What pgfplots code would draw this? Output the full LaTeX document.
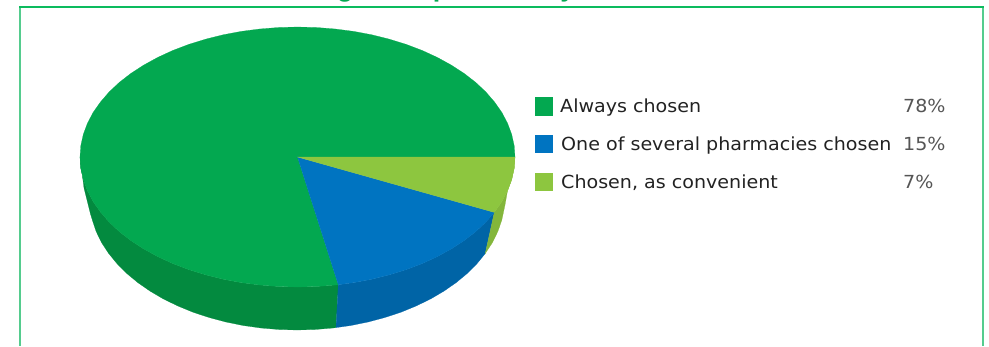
\documentclass[border=0pt]{standalone}
\usepackage{pgfplots}
\pgfplotsset{compat=1.18}
\usepackage{fontspec}
\setmainfont{DejaVu Sans}
\newfontfamily\headfont{Liberation Sans}
\definecolor{sliceGreen}{HTML}{03A850}
\definecolor{sliceBlue}{HTML}{0074C1}
\definecolor{sliceLime}{HTML}{8DC63F}
\definecolor{sideGreen}{HTML}{038A3F}
\definecolor{sideBlue}{HTML}{0064A6}
\definecolor{sideLime}{HTML}{83B63B}
\definecolor{frameTop}{HTML}{0CBB5E}
\definecolor{frameSide}{HTML}{55CC8E}
\definecolor{labelText}{HTML}{222222}
\definecolor{valueText}{HTML}{555555}
\newcommand{\lbl}[1]{\scalebox{1.06}[1]{\fontsize{18}{20}\selectfont #1}}
\begin{document}
\begin{tikzpicture}
\useasboundingbox (0,0) rectangle (989pt,346pt);
\clip (0,0) rectangle (989pt,346pt);
\begin{axis}[
  at={(0,0)}, anchor=south west,
  scale only axis, width=989pt, height=346pt,
  xmin=0, xmax=989, ymin=0, ymax=346, y dir=reverse,
  hide axis, clip=true,
]
% frame of the panel
\addplot[frameSide, line width=2pt] coordinates {(20,7) (20,346)};
\addplot[frameSide, line width=2pt] coordinates {(983,7) (983,346)};
\addplot[frameTop, line width=1.6pt] coordinates {(19,7) (984,7)};

% side wall: 78 percent slice
\addplot[draw=sideGreen, line width=0.2pt, fill=sideGreen] coordinates {
(338.3,284.7)(335.3,285)(316.5,286.5)(297.5,287)(278.5,286.5)(259.7,285)(241.2,282.6)(223.1,279.2)
(205.6,274.8)(188.7,269.6)(172.7,263.5)(157.7,256.6)(143.7,248.9)(130.9,240.6)(119.3,231.6)
(109.1,222)(100.4,211.9)(93.1,201.5)(87.4,190.6)(83.3,179.6)(80.8,168.3)(80,157)
(84,188)(90.5,214)(92.8,221.5)(96.1,231.4)(101.5,242.5)(108.5,253.2)(116.9,263.5)(126.6,273.3)
(137.7,282.5)(149.9,291)(163.3,298.9)(177.7,305.9)(193,312.2)(209.1,317.5)(225.9,322)(243.2,325.5)
(260.9,328)(278.9,329.5)(297,330)(315.1,329.5)(333.1,328)(336,327.6)
} -- cycle;
% side wall: 15 percent slice
\addplot[draw=sideBlue, line width=0.2pt, fill=sideBlue] coordinates {
(494.3,212.4)(485.9,222)(475.7,231.6)(464.1,240.6)(451.3,248.9)(437.3,256.6)(422.3,263.5)(406.3,269.6)
(389.4,274.8)(371.9,279.2)(353.8,282.6)(338.3,284.7)
(336,327.6)(350.8,325.5)(368.1,322)(384.9,317.5)(401,312.2)(416.3,305.9)(430.7,298.9)(444.1,291)
(456.3,282.5)(467.4,273.3)(477.1,263.5)(485.2,253.6)
} -- cycle;
% side wall: 7 percent slice
\addplot[draw=sideLime, line width=0.2pt, fill=sideLime] coordinates {
(515,157)(514.2,168.3)(511.7,179.6)(507.6,190.6)(501.9,201.5)(494.3,212.4)
(485.2,253.6)(492.5,242.5)(497.9,231.4)(501.8,220.1)(505,205)(508,188)(512,172)
} -- cycle;

% top face: 78 percent slice
\addplot[draw=sliceGreen, line width=0.2pt, fill=sliceGreen] coordinates {
(297.5,157)(338.3,284.7)(335.3,285)(316.5,286.5)(297.5,287)(278.5,286.5)(259.7,285)(241.2,282.6)(223.1,279.2)
(205.6,274.8)(188.7,269.6)(172.7,263.5)(157.7,256.6)(143.7,248.9)(130.9,240.6)(119.3,231.6)
(109.1,222)(100.4,211.9)(93.1,201.5)(87.4,190.6)(83.3,179.6)(80.8,168.3)(80,157)
(80.8,145.7)(83.3,134.4)(87.4,123.4)(93.1,112.5)(100.4,102.1)(109.1,92)(119.3,82.4)(130.9,73.4)
(143.7,65.1)(157.7,57.4)(172.7,50.5)(188.7,44.4)(205.6,39.2)(223.1,34.8)(241.2,31.4)(259.7,29)
(278.5,27.5)(297.5,27)(316.5,27.5)(335.3,29)(353.8,31.4)(371.9,34.8)(389.4,39.2)(406.3,44.4)
(422.3,50.5)(437.3,57.4)(451.3,65.1)(464.1,73.4)(475.7,82.4)(485.9,92)(494.6,102.1)(501.9,112.5)
(507.6,123.4)(511.7,134.4)(514.2,145.7)(515,157)
} -- cycle;
% top face: 15 percent slice
\addplot[draw=sliceBlue, line width=0.2pt, fill=sliceBlue] coordinates {
(297.5,157)(494.3,212.4)(485.9,222)(475.7,231.6)(464.1,240.6)(451.3,248.9)(437.3,256.6)(422.3,263.5)
(406.3,269.6)(389.4,274.8)(371.9,279.2)(353.8,282.6)(338.3,284.7)
} -- cycle;
% top face: 7 percent slice
\addplot[draw=sliceLime, line width=0.2pt, fill=sliceLime] coordinates {
(297.5,157)(515,157)(514.2,168.3)(511.7,179.6)(507.6,190.6)(501.9,201.5)(494.3,212.4)
} -- cycle;

% legend swatches
\addplot[draw=none, fill=sliceGreen] coordinates {(535,97)(553,97)(553,115.5)(535,115.5)} -- cycle;
\addplot[draw=none, fill=sliceBlue] coordinates {(535,134.5)(553,134.5)(553,153)(535,153)} -- cycle;
\addplot[draw=none, fill=sliceLime] coordinates {(535,172.5)(553,172.5)(553,191)(535,191)} -- cycle;

% legend labels and shares
\node[anchor=base west, text=labelText, inner sep=0pt] at (axis cs:560,112.5) {\lbl{Always chosen}};
\node[anchor=base west, text=labelText, inner sep=0pt] at (axis cs:561,150.5) {\lbl{One of several pharmacies chosen}};
\node[anchor=base west, text=labelText, inner sep=0pt] at (axis cs:561,188.5) {\lbl{Chosen, as convenient}};
\node[anchor=base west, text=valueText, inner sep=0pt] at (axis cs:903,112.5) {\lbl{78\%}};
\node[anchor=base west, text=valueText, inner sep=0pt] at (axis cs:903,150.5) {\lbl{15\%}};
\node[anchor=base west, text=valueText, inner sep=0pt] at (axis cs:903,188.5) {\lbl{7\%}};

% lower edge of the heading above the panel
\node[anchor=base, text=sliceGreen, inner sep=0pt, font=\headfont\bfseries\fontsize{27}{30}\selectfont] at (axis cs:345,-3.5) {g};
\node[anchor=base, text=sliceGreen, inner sep=0pt, font=\headfont\bfseries\fontsize{27}{30}\selectfont] at (axis cs:441,-3.5) {p};
\node[anchor=base, text=sliceGreen, inner sep=0pt, font=\headfont\bfseries\fontsize{27}{30}\selectfont] at (axis cs:568,-3.5) {y};
\end{axis}
\end{tikzpicture}
\end{document}
